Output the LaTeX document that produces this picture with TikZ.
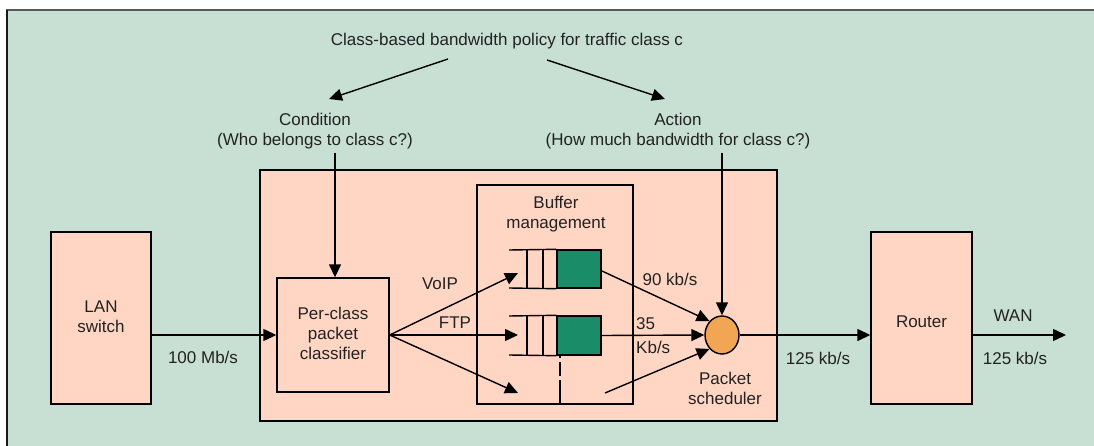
\documentclass[tikz,border=0pt]{standalone}
\usepackage{fontspec}
\setmainfont{Liberation Sans}
\usetikzlibrary{arrows.meta,shapes.geometric}
\definecolor{bgmint}{HTML}{C8E0D4}
\definecolor{boxpink}{HTML}{FFD6C4}
\definecolor{qgreen}{HTML}{1B8C68}
\definecolor{schedorange}{HTML}{F2A653}
\definecolor{txt}{HTML}{222222}
\tikzset{
  blk/.style={draw=black, line width=1.4pt, fill=boxpink, rectangle, inner sep=0pt},
  lbl/.style={text=txt, font=\fontsize{17}{20}\selectfont, inner sep=0pt, align=center},
  conn/.style={line width=1.4pt, -{Triangle[length=13pt,width=12pt]}},
  qline/.style={line width=1.4pt},
}
\begin{document}
\begin{tikzpicture}[x=1pt,y=-1pt]
\useasboundingbox (0,0) rectangle (1094,446);
\fill[white] (0,0) rectangle (1094,446);
\fill[bgmint] (7,10) rectangle (1094,446);
\draw[line width=2pt, black!65] (6,10) -- (1094,10);
\draw[line width=2pt, black!90] (7,10) -- (7,446);

% boxes
\node[blk, minimum width=517, minimum height=251] (big) at (518.5,295.5) {};
\node[blk, minimum width=100, minimum height=172] (lan) at (101,318) {};
\node[lbl] at (101,317) {LAN\\switch};
\node[blk, minimum width=101, minimum height=172] (router) at (921.5,318) {};
\node[lbl] at (921.5,322) {Router};
\node[blk, minimum width=112, minimum height=114] (cls) at (333,335) {};
\node[lbl] at (333,333) {Per-class\\packet\\classifier};
\node[blk, minimum width=156, minimum height=219] (buf) at (555,294.5) {};
\node[lbl] at (556,214) {Buffer\\management};
\node[draw=black, line width=1.4pt, fill=schedorange, ellipse, minimum width=34, minimum height=38, inner sep=0pt] (sched) at (722,335) {};
\node[lbl] at (725,388) {Packet\\scheduler};

% queues
\node[draw=black, line width=1.4pt, fill=qgreen, minimum width=44, minimum height=38, inner sep=0pt] (q1) at (579,269) {};
\node[draw=black, line width=1.4pt, fill=qgreen, minimum width=44, minimum height=39, inner sep=0pt] (q2) at (579,335.5) {};
\draw[qline] (509,250) -- (q1.north west) (509,288) -- (q1.south west);
\draw[qline] (527,250) -- (527,288) (543,250) -- (543,288);
\draw[qline] (509,316) -- (q2.north west) (509,355) -- (q2.south west);
\draw[qline] (527,316) -- (527,355) (543,316) -- (543,355);
\coordinate (dtop) at (560,355);
\coordinate (dbot) at (560,404);
\draw[line width=1.4pt, dash pattern=on 3pt off 4pt on 14pt off 4pt on 30pt] (dtop) -- (dbot);

% top text
\node[lbl] (title) at (507,41) {Class-based bandwidth policy for traffic class c};
\node[lbl] (cond) at (315,131) {Condition\\(Who belongs to class c?)};
\node[lbl] (act) at (678,131) {Action\\(How much bandwidth for class c?)};
\coordinate (t1) at (448,59);
\coordinate (t1e) at (329,99);
\coordinate (t2) at (547,60);
\coordinate (t2e) at (665,99);
\draw[conn] (t1) -- (t1e);
\draw[conn] (t2) -- (t2e);
\coordinate (c1) at (335,153);
\coordinate (c2) at (722,153);
\draw[conn] (c1) -- (cls.north -| c1);
\draw[conn] (c2) -- (sched.north);

% main flow
\draw[conn] (lan.east |- cls.west) -- (cls.west);
\node[lbl] at (203,357) {100 Mb/s};
\coordinate (in1) at (518,273);
\coordinate (in2) at (518,335);
\coordinate (in3) at (518,393);
\draw[conn] (cls.east) -- (in1);
\draw[conn] (cls.east) -- (in2);
\draw[conn] (cls.east) -- (in3);
\node[lbl] at (440,284) {VoIP};
\node[lbl] at (455,323) {FTP};

\coordinate (o1) at (602,271);
\coordinate (o3) at (605,393);
\draw[conn] (o1) -- (sched.north west);
\draw[conn] (q2.east) -- (sched.west);
\draw[conn] (o3) -- (sched.south west);
\node[lbl] at (670,279) {90 kb/s};
\node[lbl, anchor=west] at (636,324) {35};
\node[lbl, anchor=west] at (636,347) {Kb/s};

\draw[conn] (sched.east) -- (router.west |- sched.east);
\node[lbl] at (818,358) {125 kb/s};
\coordinate (wan) at (1066,335);
\draw[conn] (router.east |- wan) -- (wan);
\node[lbl] at (1013,316) {WAN};
\node[lbl] at (1015,358) {125 kb/s};
\end{tikzpicture}
\end{document}
